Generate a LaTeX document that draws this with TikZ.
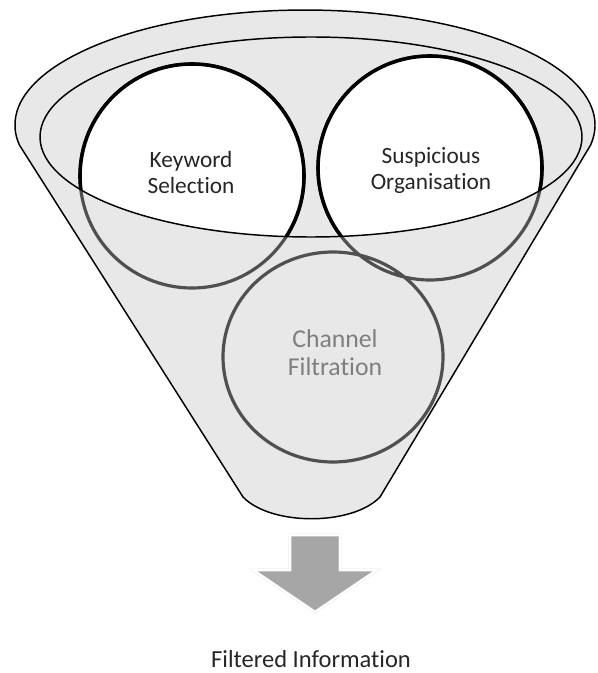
\documentclass[tikz,border=0pt]{standalone}
\usepackage{fontspec}
\setmainfont{Carlito}[Ligatures=NoCommon]
\usepackage{tikz}
\usetikzlibrary{positioning}
\definecolor{funnelgray}{HTML}{E8E8E8}
\definecolor{ringgray}{HTML}{505050}
\definecolor{arrowgray}{HTML}{A6A6A6}
\definecolor{txtgray}{HTML}{7F7F7F}
\definecolor{txtdark}{HTML}{262626}

\begin{document}
\begin{tikzpicture}[x=0.75pt, y=-0.75pt,
    lbl/.style={align=center, text=txtdark, font=\fontsize{17.5}{19.5}\selectfont}]
  \useasboundingbox (0,0) rectangle (598,673);
  % funnel body
  \draw[fill=funnelgray, line width=1.1pt, line join=round]
    (243,497) -- (19.4,145)
    arc[start angle=170, end angle=370, x radius=290, y radius=115]
    -- (380,497) .. controls (352,526) and (271,526) .. (243,497) -- cycle;
  \coordinate (rim) at (311,137);
  \coordinate (kw) at (192,176);
  \coordinate (so) at (430,168);
  \coordinate (cf) at (333,357);
  % rings below the rim
  \draw[ringgray, line width=2.4pt]
    (kw) circle[radius=112] (so) circle[radius=112]
    (cf) ellipse[x radius=110, y radius=105];
  % rings inside the rim
  \begin{scope}
    \clip (rim) ellipse[x radius=271, y radius=100];
    \draw[fill=white, line width=2.7pt]
      (kw) circle[radius=112] (so) circle[radius=112];
  \end{scope}
  \draw[line width=1.1pt] (rim) ellipse[x radius=271, y radius=100];
  % labels
  \node[lbl] (kwt) at (191,172) {Keyword\\Selection};
  \node[lbl] (sot) at (431,170) {Suspicious\\Organisation};
  \node[lbl, text=txtgray, font=\fontsize{19.3}{21}\selectfont]
    (cft) at (335,353) {Channel\\Filtration};
  % output arrow
  \draw[fill=arrowgray, draw=black!10, double=white, double distance=1.5pt, line width=0.3pt]
    (290,535) -- (340,535) -- (340,570) -- (377,570) -- (315,612)
    -- (253,570) -- (290,570) -- cycle;
  \node[lbl, font=\fontsize{18.4}{22}\selectfont, anchor=base]
    (out) at (311,667) {Filtered Information};
\end{tikzpicture}
\end{document}
